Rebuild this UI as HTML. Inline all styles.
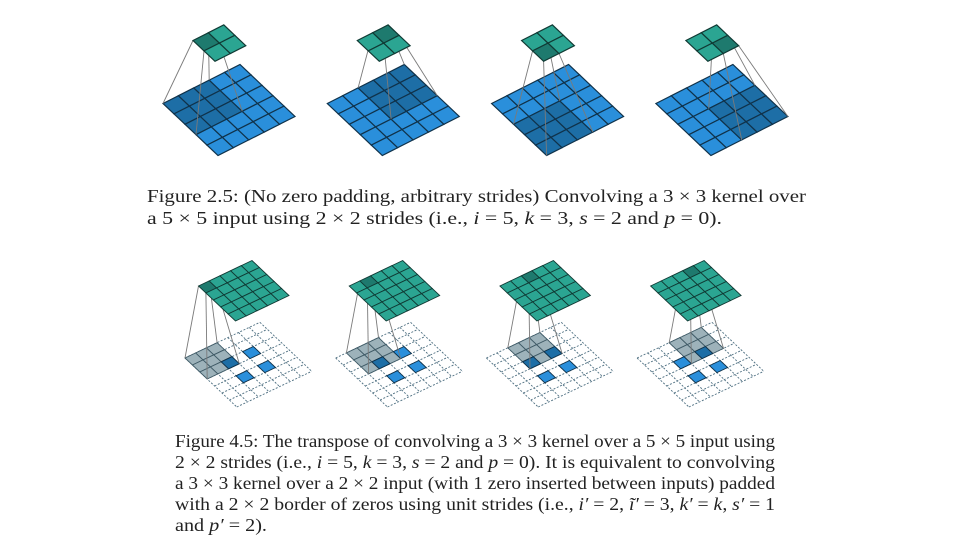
<!DOCTYPE html>
<html><head><meta charset="utf-8"><style>
html,body{margin:0;padding:0;background:#fff;width:960px;height:540px;overflow:hidden}
svg{display:block}
text{font-family:"Liberation Serif",serif;fill:#222}
</style></head><body>
<svg id="fig" width="960" height="540" viewBox="0 0 960 540" xmlns="http://www.w3.org/2000/svg">
<g id="top"></g>
<g id="bot"></g>
<g font-size="18">
<text x="147" y="202" textLength="659" lengthAdjust="spacingAndGlyphs">Figure 2.5:  (No zero padding, arbitrary strides) Convolving a 3 × 3 kernel over</text>
<text x="147" y="224" textLength="575" lengthAdjust="spacingAndGlyphs">a 5 × 5 input using 2 × 2 strides (i.e., <tspan font-style="italic">i</tspan> = 5, <tspan font-style="italic">k</tspan> = 3, <tspan font-style="italic">s</tspan> = 2 and <tspan font-style="italic">p</tspan> = 0).</text>
</g>
<g font-size="17.5">
<text x="175" y="447" textLength="600" lengthAdjust="spacingAndGlyphs">Figure 4.5:  The transpose of convolving a 3 × 3 kernel over a 5 × 5 input using</text>
<text x="175" y="468" textLength="600" lengthAdjust="spacingAndGlyphs">2 × 2 strides (i.e., <tspan font-style="italic">i</tspan> = 5, <tspan font-style="italic">k</tspan> = 3, <tspan font-style="italic">s</tspan> = 2 and <tspan font-style="italic">p</tspan> = 0). It is equivalent to convolving</text>
<text x="175" y="489" textLength="600" lengthAdjust="spacingAndGlyphs">a 3 × 3 kernel over a 2 × 2 input (with 1 zero inserted between inputs) padded</text>
<text x="175" y="510" textLength="600" lengthAdjust="spacingAndGlyphs">with a 2 × 2 border of zeros using unit strides (i.e., <tspan font-style="italic">i′</tspan> = 2, <tspan font-style="italic">ĩ′</tspan> = 3, <tspan font-style="italic">k′</tspan> = <tspan font-style="italic">k</tspan>, <tspan font-style="italic">s′</tspan> = 1</text>
<text x="175" y="531" textLength="92" lengthAdjust="spacingAndGlyphs">and <tspan font-style="italic">p′</tspan> = 2).</text>
</g>
</svg>
<script>
// Top row: kernel position (row, col) in 5x5 input; output cell highlighted
const topKernelRows = [0, 0, 2, 2];
const topKernelCols = [0, 2, 0, 2];
const topOutRows = [0, 0, 1, 1];
const topOutCols = [0, 1, 0, 1];
// Bottom row: kernel position in 7x7 padded input; output highlighted cell in 5x5
const botKernelRows = [0, 0, 0, 0];
const botKernelCols = [0, 1, 2, 3];
const botOutRows = [0, 0, 0, 0];
const botOutCols = [0, 1, 2, 3];
const inputCellRows = [2, 2, 4, 4];
const inputCellCols = [2, 4, 2, 4];

const NS = "http://www.w3.org/2000/svg";
function mk(tag, attrs, parent) {
  const e = document.createElementNS(NS, tag);
  for (const k in attrs) e.setAttribute(k, attrs[k]);
  parent.appendChild(e);
  return e;
}
function P(b, r, c, u, v) { return [b[0] + c*u[0] + r*v[0], b[1] + c*u[1] + r*v[1]]; }
function quad(b, r, c, h, w, u, v) {
  return [P(b,r,c,u,v), P(b,r,c+w,u,v), P(b,r+h,c+w,u,v), P(b,r+h,c,u,v)];
}
function pts(q) { return q.map(p => p[0].toFixed(1) + "," + p[1].toFixed(1)).join(" "); }

// ---- top row ----
const topG = document.getElementById("top");
const tu = [15.4, -7.8], tv = [11, 10.4];
for (let d = 0; d < 4; d++) {
  const base = [163 + d * 164.3, 103.5];
  const ob = [base[0] + 30, base[1] - 63];
  const g = mk("g", {}, topG);
  
  
  for (let r = 0; r < 5; r++) for (let c = 0; c < 5; c++) {
    const inK = r >= topKernelRows[d] && r < topKernelRows[d] + 3 && c >= topKernelCols[d] && c < topKernelCols[d] + 3;
    const cell = mk("polygon", {points: pts(quad(base, r, c, 1, 1, tu, tv)), fill: inK ? "#1d6ea6" : "#2a8fdb", stroke: "#10324a", "stroke-width": 1.2}, g);
    
    
  }
  const kq = quad(base, topKernelRows[d], topKernelCols[d], 3, 3, tu, tv);
  const oq = quad(ob, topOutRows[d], topOutCols[d], 1, 1, tu, tv);
  for (let i = 0; i < 4; i++) {
    const ln = mk("line", {x1: oq[i][0], y1: oq[i][1], x2: kq[i][0], y2: kq[i][1], stroke: "#7a7a7a", "stroke-width": 0.9}, g);
    
    
  }
  for (let r = 0; r < 2; r++) for (let c = 0; c < 2; c++) {
    const hi = r === topOutRows[d] && c === topOutCols[d];
    const cell = mk("polygon", {points: pts(quad(ob, r, c, 1, 1, tu, tv)), fill: hi ? "#1e7a6e" : "#2ba592", stroke: "#103a34", "stroke-width": 1.2}, g);
    
    
  }
}

// ---- bottom row ----
const botG = document.getElementById("bot");
const bu = [10.7, -5.1], bv = [7.4, 7.0];
for (let d = 0; d < 4; d++) {
  const base = [185 + d * 150.7, 358];
  const ob = [base[0] + 13.5, base[1] - 72];
  const g = mk("g", {}, botG);
  
  
  for (let i = 0; i <= 7; i++) {
    const a = P(base, i, 0, bu, bv), b = P(base, i, 7, bu, bv);
    const l1 = mk("line", {x1: a[0], y1: a[1], x2: b[0], y2: b[1], stroke: "#4f7082", "stroke-width": 0.9, "stroke-dasharray": "2,1.6"}, g);
    
    
    const c1 = P(base, 0, i, bu, bv), c2 = P(base, 7, i, bu, bv);
    const l2 = mk("line", {x1: c1[0], y1: c1[1], x2: c2[0], y2: c2[1], stroke: "#4f7082", "stroke-width": 0.9, "stroke-dasharray": "2,1.6"}, g);
    
    
  }
  const kr = botKernelRows[d], kc = botKernelCols[d];
  for (let r = kr; r < kr + 3; r++) for (let c = kc; c < kc + 3; c++) {
    const cell = mk("polygon", {points: pts(quad(base, r, c, 1, 1, bu, bv)), fill: "#9db2ba", stroke: "#3f5a66", "stroke-width": 0.9}, g);
    
    
  }
  for (let i = 0; i < inputCellRows.length; i++) {
    const r = inputCellRows[i], c = inputCellCols[i];
    const inK = r >= kr && r < kr + 3 && c >= kc && c < kc + 3;
    const cell = mk("polygon", {points: pts(quad(base, r, c, 1, 1, bu, bv)), fill: inK ? "#1d6ea6" : "#2a8fdb", stroke: "#10324a", "stroke-width": 0.9}, g);
    
    
  }
  const kq = quad(base, kr, kc, 3, 3, bu, bv);
  const oq = quad(ob, botOutRows[d], botOutCols[d], 1, 1, bu, bv);
  for (let i = 0; i < 4; i++) {
    const ln = mk("line", {x1: oq[i][0], y1: oq[i][1], x2: kq[i][0], y2: kq[i][1], stroke: "#7a7a7a", "stroke-width": 0.9}, g);
    
    
  }
  for (let r = 0; r < 5; r++) for (let c = 0; c < 5; c++) {
    const hi = r === botOutRows[d] && c === botOutCols[d];
    const cell = mk("polygon", {points: pts(quad(ob, r, c, 1, 1, bu, bv)), fill: hi ? "#1e7a6e" : "#2ba592", stroke: "#103a34", "stroke-width": 0.9}, g);
    
    
  }
}
</script>
</body></html>
